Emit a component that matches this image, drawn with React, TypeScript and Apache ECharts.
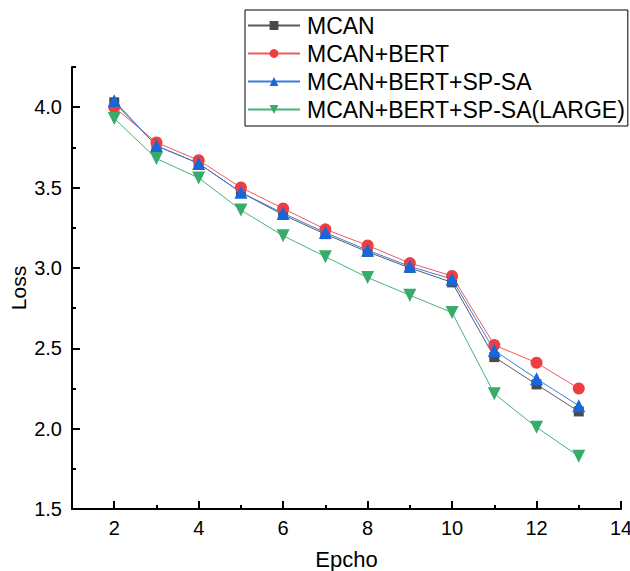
import React, { useEffect, useRef } from "react";
import * as echarts from "echarts";

const epochs = [2, 3, 4, 5, 6, 7, 8, 9, 10, 11, 12, 13];
const seriesNames = ["MCAN", "MCAN+BERT", "MCAN+BERT+SP-SA", "MCAN+BERT+SP-SA(LARGE)"];
const mcan = [4.03, 3.76, 3.65, 3.47, 3.33, 3.21, 3.10, 3.00, 2.91, 2.445, 2.275, 2.107];
const mcanBert = [4.0, 3.78, 3.67, 3.50, 3.37, 3.24, 3.14, 3.03, 2.95, 2.52, 2.41, 2.25];
const mcanBertSpsa = [4.04, 3.76, 3.65, 3.47, 3.34, 3.22, 3.11, 3.01, 2.93, 2.486, 2.31, 2.143];
const mcanBertSpsaLarge = [3.93, 3.68, 3.56, 3.36, 3.20, 3.07, 2.94, 2.83, 2.722, 2.217, 2.008, 1.828];
const xTickLabels = [2, 4, 6, 8, 10, 12, 14];
const yTickLabels = [1.5, 2.0, 2.5, 3.0, 3.5, 4.0];

const colors = ["#4a4a4a", "#ef3e42", "#1766dc", "#38ab6a"];
const lineColors = ["#5a5a5a", "#f05a5e", "#3a7ee0", "#4ab276"];
const symbols = ["rect", "circle", "triangle", "path://M0,0 L10,0 L5,9 Z"];
const symbolSizes = [10, 12, 13, 13];
const FONT = "'Liberation Sans', Arial, sans-serif";

export default function App() {
  const ref = useRef<HTMLDivElement>(null);
  useEffect(() => {
    if (!ref.current) return;
    const chart = echarts.init(ref.current, undefined, { renderer: "svg" });
    const datasets = [mcan, mcanBert, mcanBertSpsa, mcanBertSpsaLarge];
    const axisLine = { show: true, lineStyle: { color: "#000", width: 2 } };
    chart.setOption({
      animation: false,
      textStyle: { fontFamily: FONT },
      grid: { left: 72, right: 9, top: 67, bottom: 62, containLabel: false, outerBoundsMode: "none" },
      legend: {
        left: 245,
        top: 10,
        orient: "vertical",
        data: seriesNames,
        itemWidth: 52,
        itemHeight: 11,
        itemGap: 5,
        padding: [4, 3, 5, 2],
        borderColor: "#000",
        borderWidth: 1,
        textStyle: { fontFamily: FONT, fontSize: 23, color: "#000", lineHeight: 23, padding: [0, 0, 0, 2] },
      },
      xAxis: [
        {
          type: "value",
          min: 1,
          max: 14,
          interval: 1,
          position: "bottom",
          name: "Epcho",
          nameLocation: "middle",
          nameGap: 39,
          nameMoveOverlap: false,
          nameTextStyle: { fontFamily: FONT, fontSize: 22, color: "#000" },
          axisLine,
          axisTick: { show: true, inside: true, length: 8, lineStyle: { color: "#000", width: 2 }, customValues: xTickLabels },
          axisLabel: { show: true, fontFamily: FONT, fontSize: 20, color: "#000", margin: 9, customValues: xTickLabels },
          splitLine: { show: false },
        },
        {
          type: "value",
          min: 1,
          max: 14,
          interval: 1,
          position: "bottom",
          axisLine: { show: false },
          axisTick: { show: true, inside: true, length: 4, lineStyle: { color: "#000", width: 2 } },
          axisLabel: { show: false },
          splitLine: { show: false },
        },
      ],
      yAxis: [
        {
          type: "value",
          min: 1.5,
          max: 4.25,
          interval: 0.5,
          position: "left",
          name: "Loss",
          nameLocation: "middle",
          nameGap: 43,
          nameMoveOverlap: false,
          nameTextStyle: { fontFamily: FONT, fontSize: 21, color: "#000" },
          axisLine,
          axisTick: { show: true, inside: true, length: 8, lineStyle: { color: "#000", width: 2 }, customValues: yTickLabels },
          axisLabel: {
            show: true,
            fontFamily: FONT,
            fontSize: 20,
            color: "#000",
            margin: 10,
            customValues: yTickLabels,
            formatter: (v: number) => v.toFixed(1),
          },
          splitLine: { show: false },
        },
        {
          type: "value",
          min: 1.5,
          max: 4.25,
          interval: 0.25,
          position: "left",
          axisLine: { show: false },
          axisTick: { show: true, inside: true, length: 4, lineStyle: { color: "#000", width: 2 } },
          axisLabel: { show: false },
          splitLine: { show: false },
        },
      ],
      series: seriesNames.map((name, i) => ({
        name,
        type: "line",
        xAxisIndex: 0,
        yAxisIndex: 0,
        data: epochs.map((e, j) => [e, datasets[i][j]]),
        symbol: symbols[i],
        symbolSize: symbolSizes[i],
        itemStyle: { color: colors[i] },
        lineStyle: { color: lineColors[i], width: 1 },
        z: 2 + i,
      })),
    });
    return () => chart.dispose();
  }, []);
  return <div ref={ref} style={{ width: 630, height: 571, position: "absolute", left: 0, top: 0 }} />;
}
